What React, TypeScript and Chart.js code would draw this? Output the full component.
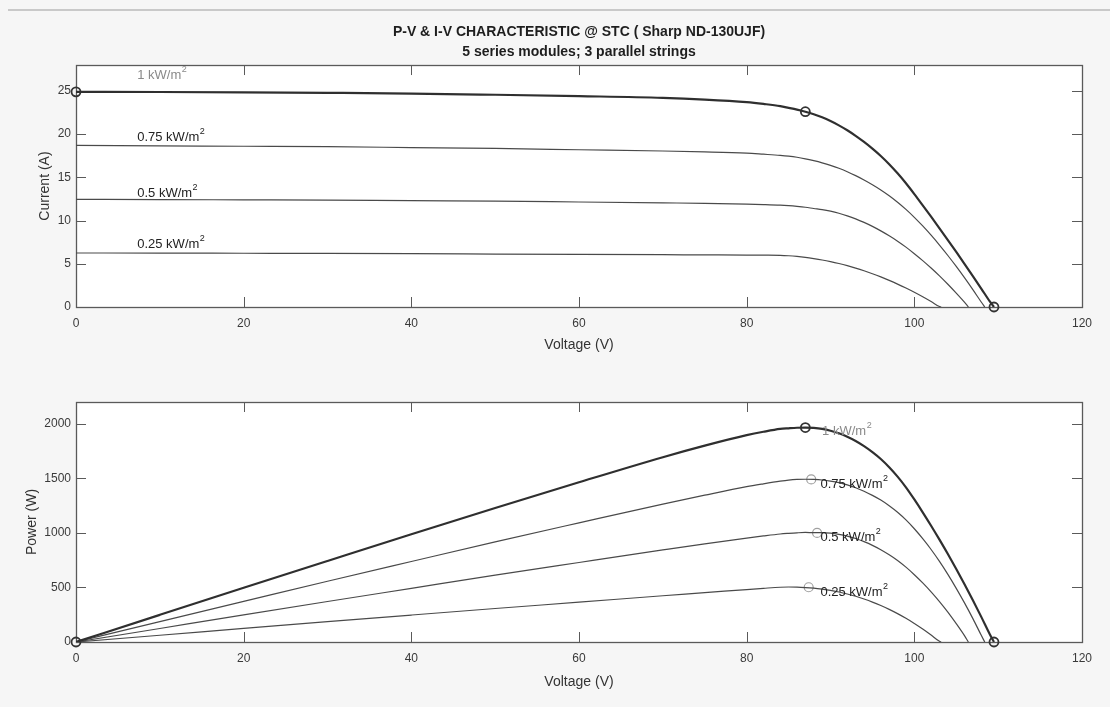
import React, { useEffect, useRef } from "react";
import { Chart, registerables } from "chart.js";

Chart.register(...registerables);

const FONT = "'Liberation Sans', Arial, Helvetica, sans-serif";

// ---------- data ----------
const titleLines = ["P-V & I-V CHARACTERISTIC @ STC ( Sharp ND-130UJF)", "5 series modules; 3 parallel strings"];
const irradianceLabels = ["1 kW/m", "0.75 kW/m", "0.5 kW/m", "0.25 kW/m"];

const xTicks = [0, 20, 40, 60, 80, 100, 120];
const currentTicks = [0, 5, 10, 15, 20, 25];
const powerTicks = [0, 500, 1000, 1500, 2000];

// 1 kW/m2
const v1000 = [0, 10, 20, 30, 40, 50, 60, 70, 75, 80, 82, 84, 85, 86, 87, 88, 89, 90, 91, 92, 93, 94, 95, 96, 97, 98, 99, 100, 101, 102, 103, 104, 105, 106, 107, 108, 109, 109.5];
const i1000 = [24.9, 24.88, 24.84, 24.78, 24.7, 24.56, 24.4, 24.2, 24.0, 23.7, 23.5, 23.25, 23.05, 22.84, 22.6, 22.31, 21.95, 21.52, 21.02, 20.45, 19.81, 19.1, 18.32, 17.47, 16.52, 15.47, 14.32, 13.07, 11.77, 10.45, 9.11, 7.75, 6.37, 4.97, 3.55, 2.11, 0.65, 0];
const p1000 = [0, 249, 497, 743, 988, 1228, 1464, 1694, 1800, 1896, 1927, 1953, 1959, 1964, 1966, 1963, 1954, 1937, 1913, 1881, 1842, 1795, 1740, 1677, 1602, 1516, 1418, 1307, 1189, 1066, 938, 806, 669, 527, 380, 228, 71, 0];

// 0.75 kW/m2
const v750 = [0, 10, 20, 30, 40, 50, 60, 70, 75, 80, 82, 84, 85, 86, 87, 88, 89, 90, 91, 92, 93, 94, 95, 96, 97, 98, 99, 100, 101, 102, 103, 104, 105, 106, 107, 108, 108.4];
const i750 = [18.7, 18.65, 18.6, 18.55, 18.45, 18.35, 18.2, 18.05, 17.95, 17.8, 17.68, 17.55, 17.46, 17.33, 17.15, 16.93, 16.68, 16.39, 16.05, 15.65, 15.2, 14.7, 14.15, 13.55, 12.88, 12.13, 11.3, 10.38, 9.38, 8.31, 7.17, 5.96, 4.69, 3.36, 1.98, 0.55, 0];
const p750 = [0, 187, 372, 557, 738, 918, 1092, 1264, 1346, 1424, 1450, 1474, 1484, 1490, 1492, 1490, 1485, 1475, 1461, 1440, 1414, 1382, 1344, 1301, 1249, 1189, 1119, 1038, 947, 848, 739, 620, 492, 356, 212, 59, 0];

// 0.5 kW/m2
const v500 = [0, 10, 20, 30, 40, 50, 60, 70, 75, 80, 82, 84, 85, 86, 87, 88, 89, 90, 91, 92, 93, 94, 95, 96, 97, 98, 99, 100, 101, 102, 103, 104, 105, 106, 106.45];
const i500 = [12.45, 12.43, 12.4, 12.37, 12.3, 12.25, 12.15, 12.05, 12.0, 11.9, 11.85, 11.78, 11.72, 11.64, 11.54, 11.4, 11.27, 11.09, 10.85, 10.55, 10.2, 9.79, 9.33, 8.81, 8.24, 7.62, 6.93, 6.17, 5.37, 4.51, 3.6, 2.63, 1.6, 0.53, 0];
const p500 = [0, 124, 248, 371, 492, 613, 729, 844, 900, 952, 972, 990, 996, 1001, 1004, 1003, 1003, 998, 987, 971, 949, 920, 886, 846, 799, 747, 686, 617, 542, 460, 371, 274, 168, 56, 0];

// 0.25 kW/m2
const v250 = [0, 10, 20, 30, 40, 50, 60, 70, 75, 80, 82, 84, 85, 86, 87, 88, 89, 90, 91, 92, 93, 94, 95, 96, 97, 98, 99, 100, 101, 102, 103, 103.2];
const i250 = [6.25, 6.24, 6.22, 6.2, 6.17, 6.13, 6.09, 6.05, 6.03, 6.01, 6.0, 5.98, 5.93, 5.85, 5.74, 5.6, 5.44, 5.25, 5.03, 4.78, 4.5, 4.19, 3.85, 3.48, 3.08, 2.65, 2.19, 1.7, 1.18, 0.63, 0.06, 0];
const p250 = [0, 62, 124, 186, 247, 307, 365, 424, 452, 481, 492, 502, 504, 503, 499, 493, 484, 473, 458, 440, 419, 394, 366, 334, 299, 260, 217, 170, 119, 64, 6, 0];

// marked points (Isc, MPP, Voc) of the 1 kW/m2 curve
const ivMarkV = [0, 87, 109.5];
const ivMarkI = [24.9, 22.6, 0];
const pvMarkV = [0, 87, 109.5];
const pvMarkP = [0, 1966, 0];
// MPP of the reduced irradiance curves
const mppV = [87.7, 88.4, 87.4];
const mppP = [1490, 1000, 502];

// label anchors (data units)
const ivLabelV = [7.3, 7.3, 7.3, 7.3];
const ivLabelI = [26.8, 19.6, 13.1, 7.2];
const pvLabelV = [89.0, 88.8, 88.8, 88.8];
const pvLabelP = [1932, 1444, 962, 458];

// ---------- helpers ----------
const pts = (xs: number[], ys: number[]) => xs.map((x, i) => ({ x, y: ys[i] }));

const curve = (data: any, thick: boolean) => ({
  data,
  showLine: true,
  borderColor: thick ? "#2f2f2f" : "#4a4a4a",
  borderWidth: thick ? 2.2 : 1.2,
  pointRadius: 0,
  cubicInterpolationMode: "monotone",
  fill: false,
});

const markers = (data: any, color: string, width: number) => ({
  data,
  showLine: false,
  pointStyle: "circle",
  pointRadius: 4.5,
  pointBorderWidth: width,
  pointBorderColor: color,
  pointBackgroundColor: "rgba(0,0,0,0)",
  clip: false,
});

const framePlugin = {
  id: "matlabFrame",
  beforeDraw(chart: any) {
    const { ctx, chartArea: a } = chart;
    ctx.save();
    ctx.fillStyle = "#ffffff";
    ctx.fillRect(a.left, a.top, a.right - a.left, a.bottom - a.top);
    ctx.restore();
  },
  beforeDatasetsDraw(chart: any) {
    const { ctx, chartArea: a, scales } = chart;
    const tl = 10;
    ctx.save();
    ctx.strokeStyle = "#5a5a5a";
    ctx.lineWidth = 1;
    ctx.beginPath();
    for (const t of scales.x.ticks) {
      const px = Math.round(scales.x.getPixelForValue(t.value)) + 0.5;
      ctx.moveTo(px, a.bottom);
      ctx.lineTo(px, a.bottom - tl);
      ctx.moveTo(px, a.top);
      ctx.lineTo(px, a.top + tl);
    }
    for (const t of scales.y.ticks) {
      const py = Math.round(scales.y.getPixelForValue(t.value)) + 0.5;
      ctx.moveTo(a.left, py);
      ctx.lineTo(a.left + tl, py);
      ctx.moveTo(a.right, py);
      ctx.lineTo(a.right - tl, py);
    }
    ctx.stroke();
    ctx.lineWidth = 1.3;
    ctx.strokeRect(Math.round(a.left) + 0.5, Math.round(a.top) + 0.5, Math.round(a.right - a.left), Math.round(a.bottom - a.top));
    ctx.restore();
  },
};

const makeLabelPlugin = (vs: number[], ys: number[], colors: string[]) => ({
  id: "irradianceLabels",
  afterDatasetsDraw(chart: any) {
    const { ctx, scales } = chart;
    ctx.save();
    ctx.textAlign = "left";
    ctx.textBaseline = "middle";
    irradianceLabels.forEach((txt, i) => {
      const x = scales.x.getPixelForValue(vs[i]);
      const y = scales.y.getPixelForValue(ys[i]);
      ctx.fillStyle = colors[i];
      ctx.font = `13px ${FONT}`;
      ctx.fillText(txt, x, y);
      const w = ctx.measureText(txt).width;
      ctx.font = `9px ${FONT}`;
      ctx.fillText("2", x + w + 0.5, y - 6);
    });
    ctx.restore();
  },
});

const xScale = (h: number, titlePad: number) => ({
  type: "linear",
  min: 0,
  max: 120,
  grid: { display: false, drawTicks: false },
  border: { display: false },
  afterBuildTicks: (s: any) => {
    s.ticks = xTicks.map((v) => ({ value: v }));
  },
  afterFit: (s: any) => {
    s.height = h;
  },
  ticks: { font: { size: 12, family: FONT }, color: "#3a3a3a", padding: 9, maxRotation: 0, callback: (v: any) => String(v) },
  title: {
    display: true,
    text: "Voltage (V)",
    font: { size: 14, family: FONT },
    color: "#333",
    padding: { top: 0, bottom: titlePad },
  },
});

const yScale = (max: number, ticks: number[], label: string, titleOffset: number) => ({
  type: "linear",
  min: 0,
  max,
  grid: { display: false, drawTicks: false },
  border: { display: false },
  afterBuildTicks: (s: any) => {
    s.ticks = ticks.map((v) => ({ value: v }));
  },
  afterFit: (s: any) => {
    s.width = 76;
  },
  ticks: { font: { size: 12, family: FONT }, color: "#3a3a3a", padding: 5, callback: (v: any) => String(v) },
  title: {
    display: true,
    text: label,
    font: { size: 14, family: FONT },
    color: "#333",
    padding: { top: titleOffset, bottom: 0 },
  },
});

function ivConfig(): any {
  return {
    type: "scatter",
    data: {
      datasets: [
        curve(pts(v1000, i1000), true),
        curve(pts(v750, i750), false),
        curve(pts(v500, i500), false),
        curve(pts(v250, i250), false),
        markers(pts(ivMarkV, ivMarkI), "#333", 1.8),
      ],
    },
    options: {
      animation: false,
      responsive: false,
      layout: { padding: { left: 0, right: 28, top: 0, bottom: 0 } },
      plugins: {
        legend: { display: false },
        tooltip: { enabled: false },
        title: {
          display: true,
          text: titleLines,
          fullSize: false,
          color: "#1e1e1e",
          font: { size: 14, weight: "bold", family: FONT, lineHeight: 1.43 },
          padding: { top: 22, bottom: 3 },
        },
      },
      scales: {
        x: xScale(53, 6.5),
        y: yScale(28, currentTicks, "Current (A)", 36.5),
      },
    },
    plugins: [framePlugin, makeLabelPlugin(ivLabelV, ivLabelI, ["#8a8a8a", "#222", "#222", "#222"])],
  };
}

function pvConfig(): any {
  return {
    type: "scatter",
    data: {
      datasets: [
        curve(pts(v1000, p1000), true),
        curve(pts(v750, p750), false),
        curve(pts(v500, p500), false),
        curve(pts(v250, p250), false),
        markers(pts(pvMarkV, pvMarkP), "#333", 1.8),
        markers(pts(mppV, mppP), "#a0a0a0", 1.2),
      ],
    },
    options: {
      animation: false,
      responsive: false,
      layout: { padding: { left: 0, right: 28, top: 42, bottom: 0 } },
      plugins: {
        legend: { display: false },
        tooltip: { enabled: false },
      },
      scales: {
        x: xScale(65, 16.5),
        y: yScale(2200, powerTicks, "Power (W)", 23.5),
      },
    },
    plugins: [framePlugin, makeLabelPlugin(pvLabelV, pvLabelP, ["#8a8a8a", "#222", "#222", "#222"])],
  };
}

function Plot({ make, top, height }: { make: () => any; top: number; height: number }) {
  const ref = useRef<HTMLCanvasElement | null>(null);
  useEffect(() => {
    if (!ref.current) return;
    const chart = new Chart(ref.current, make());
    return () => chart.destroy();
  }, []);
  return (
    <canvas
      ref={ref}
      width={1110}
      height={height}
      style={{ position: "absolute", left: 0, top, width: 1110, height }}
    />
  );
}

export default function App() {
  return (
    <div
      style={{
        position: "fixed",
        left: 0,
        top: 0,
        width: 1110,
        height: 707,
        background: "#f6f6f6",
        overflow: "hidden",
      }}
    >
      <div
        style={{
          position: "absolute",
          left: 8,
          top: 9,
          width: 1102,
          height: 0,
          borderTop: "2px solid #c9c9c9",
        }}
      />
      <Plot make={ivConfig} top={0} height={360} />
      <Plot make={pvConfig} top={360} height={347} />
    </div>
  );
}
